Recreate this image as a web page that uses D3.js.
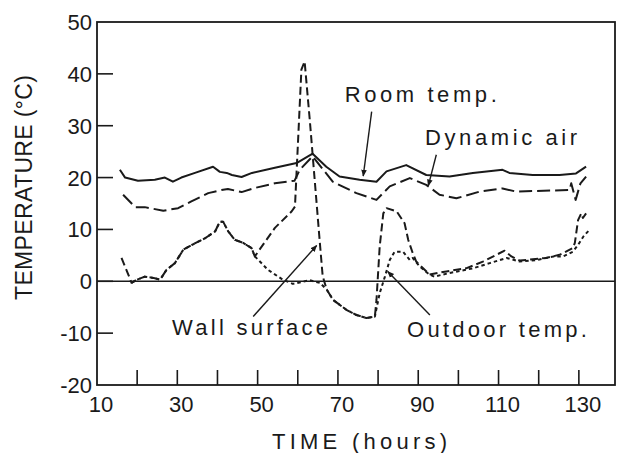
<!DOCTYPE html>
<html>
<head>
<meta charset="utf-8">
<script src="https://cdn.jsdelivr.net/npm/d3@7"></script>
<style>
  body { margin: 0; background: #fff; }
  text { font-family: 'Liberation Sans', Arial, Helvetica, sans-serif; fill: #1a1a1a; }
  .curve { fill: none; stroke: #1a1a1a; stroke-width: 2; stroke-linejoin: round; }
  .frame { fill: none; stroke: #1a1a1a; stroke-width: 1.8; }
  .tick { stroke: #1a1a1a; stroke-width: 1.6; }
  .pointer { stroke: #1a1a1a; stroke-width: 1.4; }
</style>
</head>
<body>
<div id="wrapper"></div>
<script>
// 1. Data (time in hours, temperature in degC)

const roomTemp = [
  [15.7, 21.5], [17, 20], [20.2, 19.4], [24.4, 19.6], [26.9, 20], [28.9, 19.2],
  [31, 20], [34.4, 20.9], [38.9, 22.1], [40.6, 21.1], [42.3, 20.9], [43.6, 20.5],
  [46, 20.1], [48.6, 20.9], [54.3, 21.9], [59.7, 22.8], [63.7, 24.6], [67.1, 22.1],
  [70.4, 20.2], [75.4, 19.6], [79.6, 19.2], [82.1, 21.2], [87, 22.4], [92, 20.5],
  [97.8, 20.2], [103.6, 20.9], [111, 21.5], [112.7, 20.9], [118.5, 20.5],
  [125.2, 20.5], [129.3, 20.8], [131.8, 22.1]
];

const dynamicAir = [
  [16.5, 16.7], [19.5, 14.3], [21.9, 14.3], [26.5, 13.6], [30.2, 14.1], [33.5, 15.4],
  [37.7, 17], [41, 17.6], [42.6, 17.8], [46, 17.2], [49.3, 18], [54.3, 18.9],
  [59.2, 19.4], [60.5, 21.5], [63.7, 24.1], [68.7, 19.2], [74.6, 17], [79.6, 15.7],
  [82.9, 18.3], [87.9, 19.9], [92, 18.6], [95.3, 16.7], [99.5, 16], [105.3, 17.3],
  [111, 17.9], [114.4, 17.3], [127.7, 17.6], [128.1, 18.9], [129.2, 15.7],
  [130.4, 18.9], [131.8, 20.2]
];

const wallSurface = [
  [16.1, 4.5], [17.8, 1.3], [18.6, -0.3], [19.9, 0.3], [21.9, 0.9], [24.4, 0.6],
  [25.7, 0.3], [27.3, 2.2], [29.4, 3.5], [31.5, 6.1], [33.6, 7], [36.9, 8.3],
  [39.4, 9.6], [40.6, 11.5], [41.4, 11.5], [42.7, 9.6], [44.3, 8], [46.4, 7.4],
  [48.5, 6.4], [49.3, 4.8], [54.3, 10.3], [58.5, 13.5], [59.3, 14.4], [60.9, 40.8],
  [61.7, 42.4], [63, 31], [65.5, 7.4], [66.2, 1], [67.2, -1.6], [68.8, -3.6],
  [72.1, -5.5], [74.6, -6.5], [77.1, -7.1], [79.2, -6.8], [79.6, -3.6], [80.4, 6.7],
  [81.3, 13.1], [82.1, 14.1], [84.6, 13.5], [86.6, 11.2], [87.5, 8], [88.6, 5.5],
  [89.5, 3.8], [92.8, 1.3], [97, 1.9], [101.9, 2.5], [106.1, 3.8], [111.5, 5.9],
  [113.2, 4.8], [115.3, 4], [121.8, 4.5], [125.2, 5.1], [128.5, 6.4], [129, 7.4],
  [129.8, 11.8], [130.6, 13.1], [131, 12.2], [131.8, 13.1]
];

const outdoorTemp = [
  [18.6, -0.3], [19.9, 0.3], [21.9, 0.9], [24.4, 0.6], [25.7, 0.3], [27.3, 2.2],
  [29.4, 3.5], [31.5, 6.1], [33.6, 7], [36.9, 8.3], [39.4, 9.6], [40.6, 11.5],
  [41.4, 11.5], [42.7, 9.6], [44.3, 8], [46.4, 7.4], [48.5, 6.4], [49.3, 4.8],
  [52.6, 2.2], [56.3, 0.3], [58.8, -0.5], [63, 0.2], [65.5, -0.3], [67.2, -1.6],
  [68.8, -3.6], [72.1, -5.5], [74.6, -6.5], [77.1, -7.1], [79.2, -6.8], [80.4, -2.3],
  [81.7, 0.9], [82.9, 4.1], [84.1, 5.7], [86.2, 5.7], [87.9, 4.1], [88.6, 4.5],
  [90.3, 2.9], [92.8, 1.3], [94, 0.9], [97.8, 1.6], [103.6, 2.5], [107.8, 3.5],
  [112, 4.5], [115.3, 3.8], [119.4, 4.1], [123.8, 4.8], [126.1, 4.8], [128.5, 5.7],
  [129.8, 7], [131.1, 8.6], [132.6, 9.9]
];

const xTickLabels = [10, 30, 50, 70, 90, 110, 130];
const xTicks = [20, 30, 40, 50, 60, 70, 80, 90, 100, 110, 120, 130];
const yTickLabels = [50, 40, 30, 20, 10, 0, -10, -20];
const yTicks = [40, 30, 20, 10, 0, -10];

// label text, text start (time, temp), arrow from, arrow to, text width px
const annotations = [
  { text: 'Room  temp.', at: [71.7, 34.6], from: [78.4, 32.7], to: [76.3, 20.3], w: 152 },
  { text: 'Dynamic  air', at: [91.7, 26.3], from: [94.5, 24.4], to: [92.5, 18.4], w: 152 },
  { text: 'Wall  surface', at: [28.7, -10.4], from: [48.9, -6.8], to: [64.7, 6.9], w: 156 },
  { text: 'Outdoor  temp.', at: [87.2, -10.7], from: [92.9, -6.5], to: [82.4, 1.9], w: 180 }
];

// 2. Dimensions

const dimensions = {
  width: 624,
  height: 453,
  margin: { top: 22, right: 9, bottom: 68, left: 97 }
};
dimensions.boundedWidth = dimensions.width - dimensions.margin.left - dimensions.margin.right;
dimensions.boundedHeight = dimensions.height - dimensions.margin.top - dimensions.margin.bottom;

// 3. Canvas

const wrapper = d3.select('#wrapper')
  .append('svg')
  .attr('width', dimensions.width)
  .attr('height', dimensions.height);

const defs = wrapper.append('defs');
defs.append('marker')
  .attr('id', 'arrowhead')
  .attr('viewBox', '0 0 10 10')
  .attr('refX', 9)
  .attr('refY', 5)
  .attr('markerWidth', 7)
  .attr('markerHeight', 7)
  .attr('markerUnits', 'userSpaceOnUse')
  .attr('orient', 'auto')
  .append('path')
  .attr('d', 'M0,1 L10,5 L0,9 Z')
  .attr('fill', '#1a1a1a');

const bounds = wrapper.append('g')
  .attr('transform', `translate(${dimensions.margin.left},${dimensions.margin.top})`);

// 4. Scales

const xScale = d3.scaleLinear()
  .domain([10, 139])
  .range([0, dimensions.boundedWidth]);

const yScale = d3.scaleLinear()
  .domain([-20, 50])
  .range([dimensions.boundedHeight, 0]);

// 5. Data

const lineGenerator = d3.line()
  .x((d) => xScale(d[0]))
  .y((d) => yScale(d[1]));

const series = [
  { data: roomTemp, dash: null },
  { data: dynamicAir, dash: '13 5' },
  { data: wallSurface, dash: '8 4' },
  { data: outdoorTemp, dash: '3.5 3' }
];

series.forEach((s) => {
  bounds.append('path')
    .attr('class', 'curve')
    .attr('d', lineGenerator(s.data))
    .attr('stroke-dasharray', s.dash);
});

// 6. Peripherals

bounds.append('line')
  .attr('class', 'tick')
  .attr('x1', 0)
  .attr('x2', dimensions.boundedWidth)
  .attr('y1', yScale(0))
  .attr('y2', yScale(0));

bounds.append('rect')
  .attr('class', 'frame')
  .attr('width', dimensions.boundedWidth)
  .attr('height', dimensions.boundedHeight);

bounds.selectAll('.y-tick')
  .data(yTicks)
  .join('line')
  .attr('class', 'tick y-tick')
  .attr('x1', 0)
  .attr('x2', 16)
  .attr('y1', (d) => yScale(d))
  .attr('y2', (d) => yScale(d));

bounds.selectAll('.x-tick')
  .data(xTicks)
  .join('line')
  .attr('class', 'tick x-tick')
  .attr('x1', (d) => xScale(d))
  .attr('x2', (d) => xScale(d))
  .attr('y1', dimensions.boundedHeight)
  .attr('y2', dimensions.boundedHeight - 15);

bounds.selectAll('.y-label')
  .data(yTickLabels)
  .join('text')
  .attr('class', 'y-label')
  .attr('x', -5)
  .attr('y', (d) => yScale(d) + 8)
  .attr('text-anchor', 'end')
  .style('font-size', '22px')
  .text((d) => d);

bounds.selectAll('.x-label')
  .data(xTickLabels)
  .join('text')
  .attr('class', 'x-label')
  .attr('x', (d) => xScale(d) + 4)
  .attr('y', dimensions.boundedHeight + 27)
  .attr('text-anchor', 'middle')
  .style('font-size', '22px')
  .text((d) => d);

wrapper.append('text')
  .attr('x', 272)
  .attr('y', 449)
  .attr('textLength', 175)
  .attr('lengthAdjust', 'spacing')
  .style('font-size', '22px')
  .text('TIME  (hours)');

wrapper.append('text')
  .attr('transform', 'translate(32, 300) rotate(-90)')
  .attr('textLength', 225)
  .attr('lengthAdjust', 'spacing')
  .style('font-size', '23px')
  .text('TEMPERATURE  (°C)');

// annotations
annotations.forEach((a) => {
  bounds.append('line')
    .attr('class', 'pointer')
    .attr('x1', xScale(a.from[0]))
    .attr('y1', yScale(a.from[1]))
    .attr('x2', xScale(a.to[0]))
    .attr('y2', yScale(a.to[1]))
    .attr('marker-end', 'url(#arrowhead)');
  bounds.append('text')
    .attr('x', xScale(a.at[0]))
    .attr('y', yScale(a.at[1]))
    .attr('textLength', a.w)
    .attr('lengthAdjust', 'spacing')
    .style('font-size', '22px')
    .text(a.text);
});
</script>
</body>
</html>
